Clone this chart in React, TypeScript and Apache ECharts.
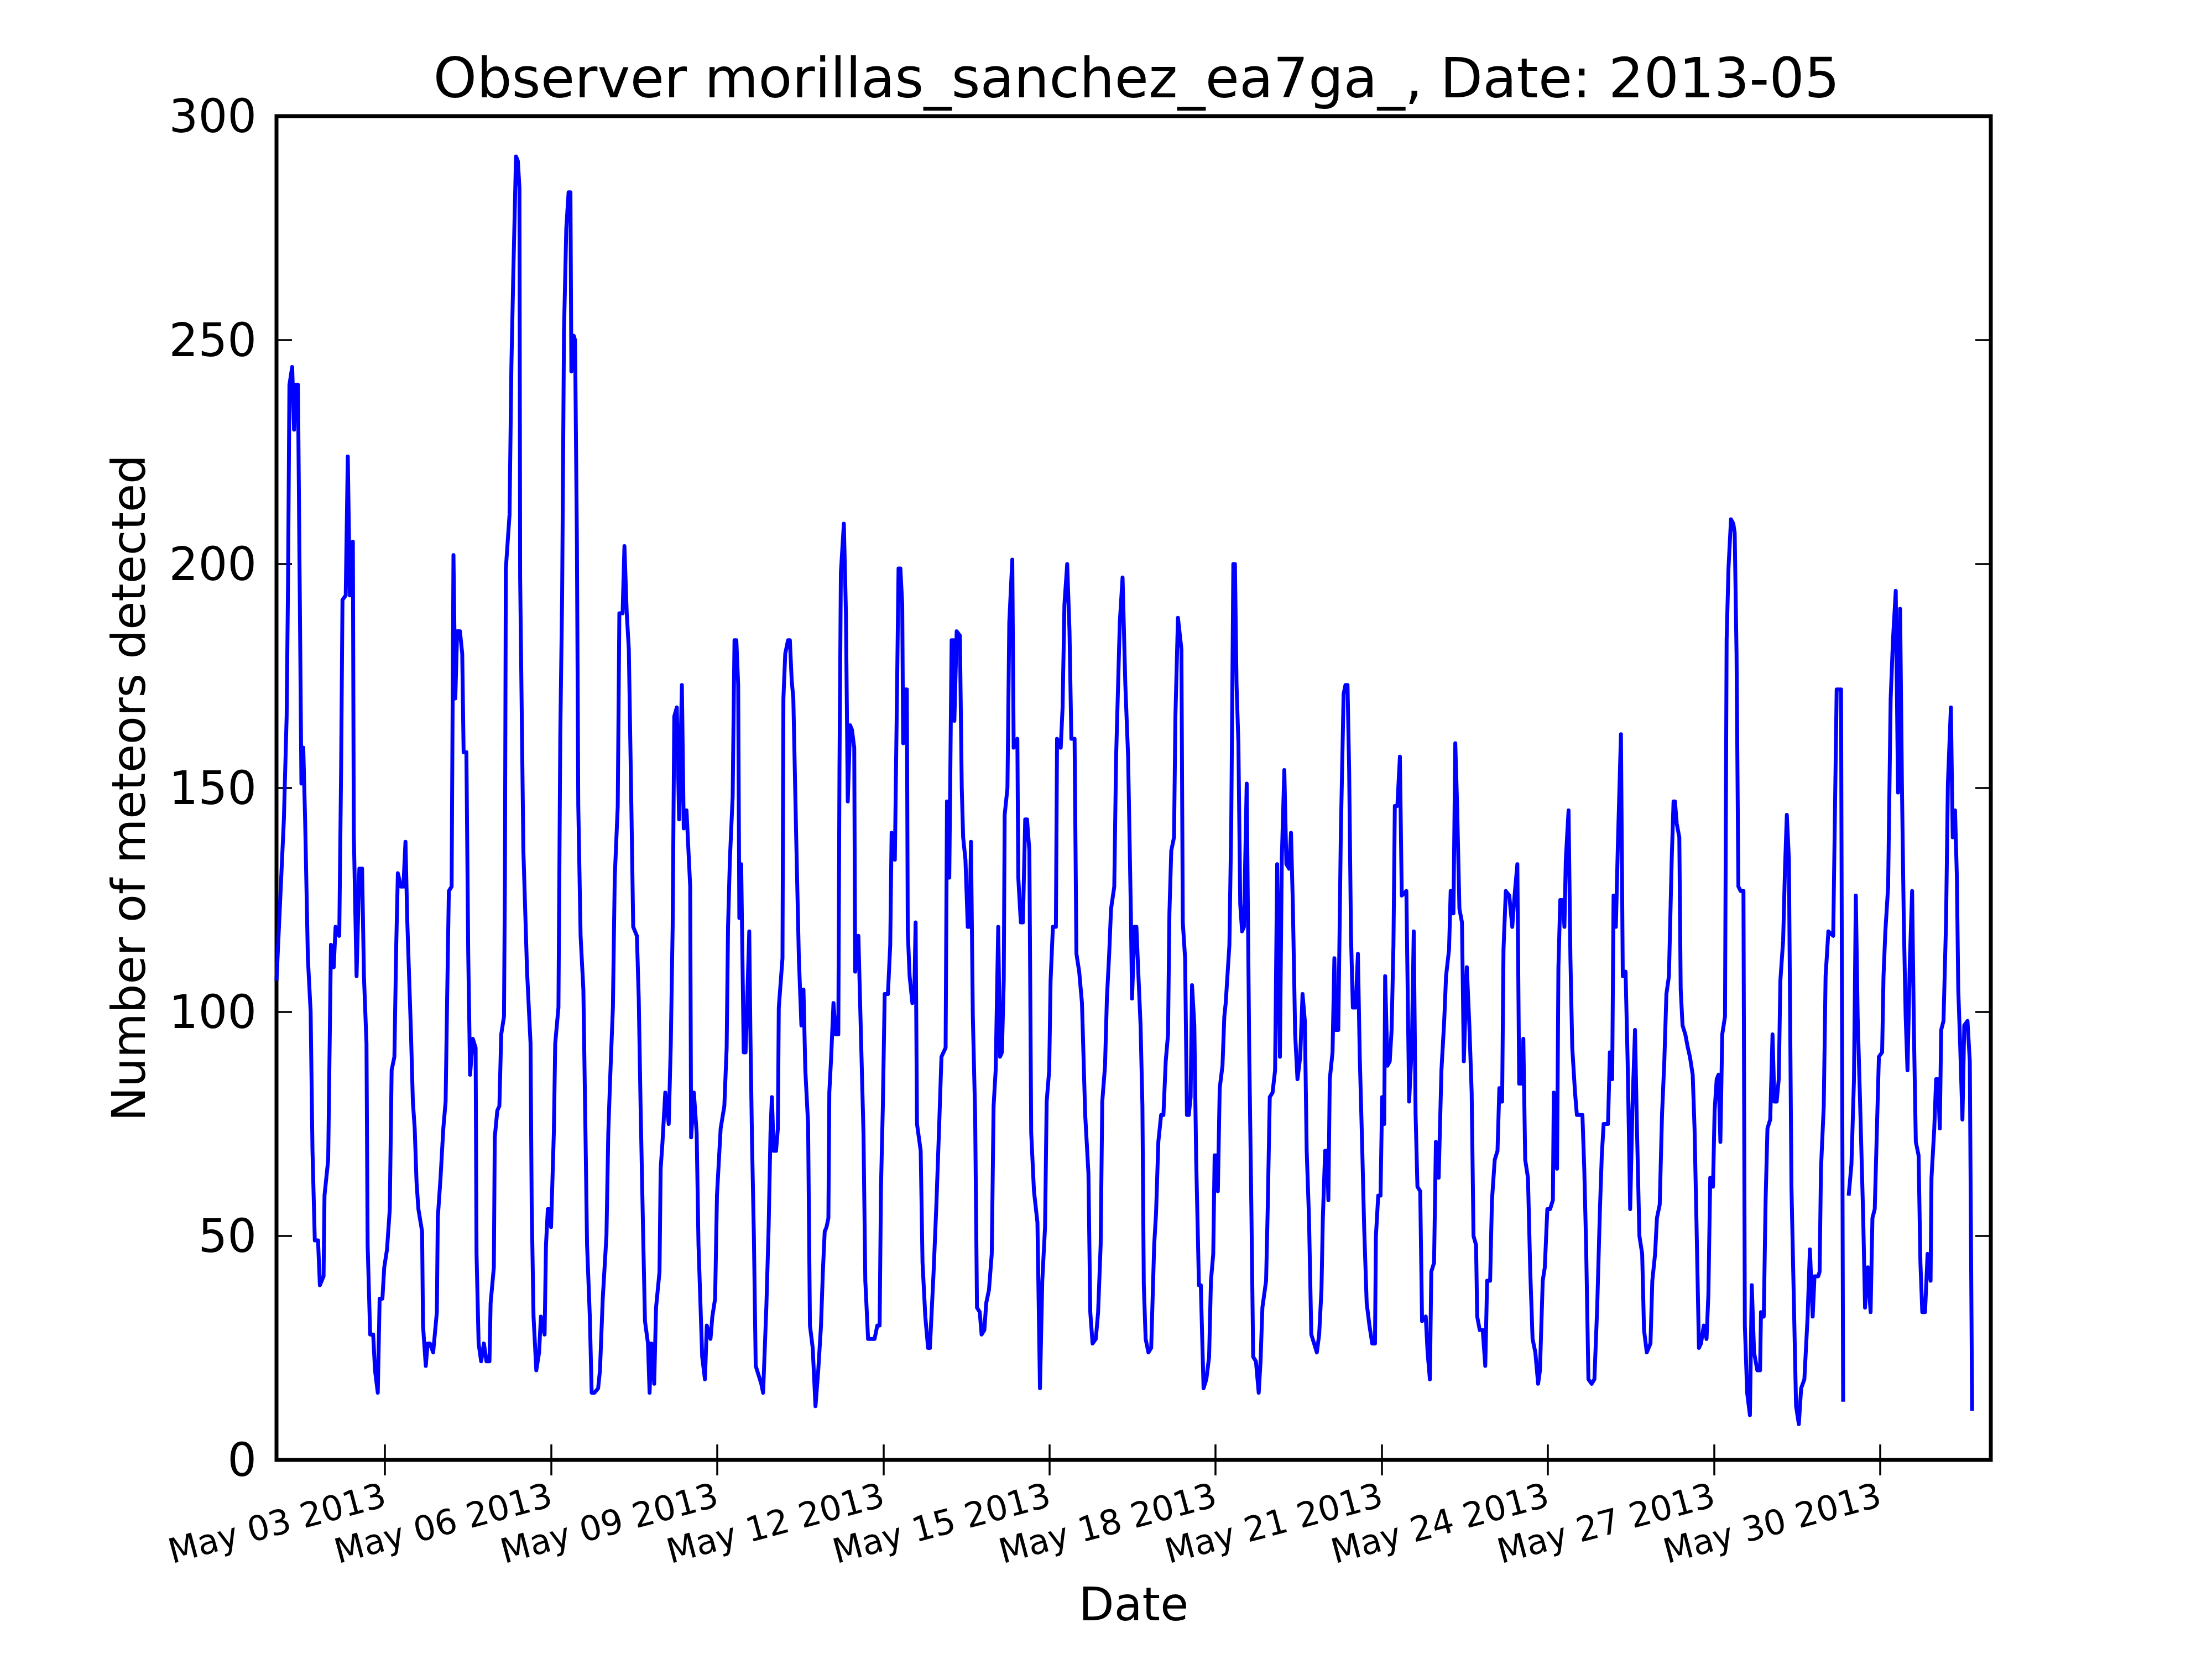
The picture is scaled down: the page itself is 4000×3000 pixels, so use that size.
import React, { useEffect, useRef } from "react";
import * as echarts from "echarts";

// Hourly meteor counts, as [hours since 2013-05-01 00:00, count].
// null = missing hour (the line breaks there).
const may01to07: [number, number | null][] = [
  [1, 107], [4.2, 143], [5.4, 166], [6, 196], [6.6, 240], [7.8, 244], [8.6, 230], [9.4, 240], [10.3, 240],
  [11.8, 151], [12.6, 159], [13.4, 143], [14.6, 112], [15.8, 100], [16.6, 69], [17.6, 49], [19, 49], [19.8, 39],
  [21.4, 41], [21.8, 59], [23.4, 67], [24.2, 99], [24.6, 115], [25.8, 110], [26.6, 119], [28.2, 117], [29, 154],
  [29.6, 192], [31, 193], [31.9, 224], [32.8, 193], [34.1, 205], [34.5, 140], [35.7, 108], [36.9, 132], [38.1, 132],
  [38.9, 108], [40, 93], [40.5, 48], [41.6, 28], [42.9, 28], [43.7, 20], [44.9, 15], [45.7, 36], [46.9, 36],
  [47.7, 43], [48.9, 47], [50.1, 56], [50.9, 87], [52.1, 90], [52.9, 115], [53.6, 131], [54.9, 128], [56, 128],
  [56.9, 138], [57.7, 120], [59.3, 95], [60.1, 80], [60.9, 74], [61.7, 62], [62.5, 56], [64.1, 51], [64.5, 30],
  [65.7, 21], [66.5, 26], [67.5, 26], [68.9, 24], [70.5, 33], [70.9, 54], [72.1, 63], [73.3, 74], [74.3, 80],
  [74.9, 101], [75.7, 127], [76.9, 128], [77.7, 202], [78.5, 170], [79.3, 185], [80.5, 185], [81.5, 180], [82.1, 158],
  [83.3, 158], [84.1, 113], [84.9, 86], [86.1, 94], [87.3, 92], [87.7, 46], [88.6, 26], [89.7, 22], [90.9, 26],
  [92, 22], [93.3, 22], [93.8, 35], [95.2, 43], [95.6, 72], [96.7, 78], [97.6, 79], [98.4, 95], [99.6, 99],
  [100, 130], [100.4, 199], [102, 211], [102.8, 244], [103.6, 264], [104.8, 291], [105.6, 290], [106.3, 284], [106.6, 197],
  [108, 136], [109.6, 109], [111.1, 93], [111.6, 57], [112.4, 32], [113.6, 20], [114.8, 24], [115.6, 32], [117.2, 28],
  [117.8, 48], [118.6, 56], [119.2, 56], [120, 52], [121.2, 73], [121.8, 93], [123.2, 101], [124, 162], [124.8, 193],
  [125.6, 252], [126.6, 275], [127.6, 283], [128.4, 283], [128.8, 243], [129.8, 251], [130.4, 250], [131.2, 205], [131.8, 146],
  [132.8, 117], [134, 105], [134.8, 77], [135.6, 48], [136.8, 32], [137.6, 15], [138.8, 15], [140.4, 16], [141.2, 20],
  [142.4, 36], [144, 50], [144.8, 73], [145.6, 85], [146.8, 101], [147.6, 130], [148.9, 146], [149.6, 189], [151, 189],
  [151.8, 204], [152.8, 189], [153.7, 181], [154.8, 146], [155.6, 119], [157.2, 117], [158, 103], [158.8, 79], [160, 48],
  [160.7, 31], [162, 26], [162.7, 15], [163.5, 26], [164.7, 17], [165.5, 34], [167, 42], [167.5, 65],
];

const may08to14: [number, number | null][] = [
  [168.3, 71], [169.5, 82], [171, 75], [171.9, 93], [172.7, 119], [173.4, 166], [174.5, 168], [175.5, 143], [176.7, 173],
  [177.5, 141], [178.7, 145], [180.3, 128], [180.7, 72], [181.9, 82], [183.1, 73], [183.9, 48], [185.5, 23], [186.7, 18],
  [187.5, 30], [189.1, 27], [189.9, 32], [191.1, 36], [191.9, 59], [193.5, 74], [195.1, 79], [196.1, 92], [196.7, 119],
  [197.5, 134], [198.7, 148], [199.5, 183], [200.3, 183], [201.1, 173], [201.6, 121], [202.4, 133], [203.5, 91], [204.3, 91],
  [204.7, 97], [205.9, 118], [206.4, 95], [207.1, 71], [207.9, 50], [208.7, 21], [209.9, 19], [211.1, 17], [211.9, 15],
  [213.3, 34], [214.3, 52], [215.1, 73], [215.7, 81], [216.5, 69], [217.5, 69], [218.3, 74], [218.7, 101], [220.3, 112],
  [220.7, 170], [221.5, 180], [222.7, 183], [223.5, 183], [224.3, 174], [225, 170], [226.2, 140], [227.4, 112], [228.5, 97],
  [229.4, 105], [230.2, 87], [231.4, 75], [232.2, 30], [233.4, 25], [234.6, 12], [235.8, 20], [237, 30], [237.8, 42],
  [238.6, 51], [239.4, 52], [240.2, 54], [240.6, 82], [241.4, 90], [242.4, 102], [243.4, 95], [244.5, 95], [245, 154],
  [245.6, 198], [246.9, 209], [247.8, 189], [248.6, 147], [249.6, 164], [250.4, 163], [251.4, 159], [251.8, 109], [253.2, 117],
  [254.2, 97], [255.4, 73], [256.2, 40], [257.4, 27], [258.6, 27], [260.2, 27], [261.4, 30], [262.4, 30], [263, 61],
  [263.8, 79], [264.6, 104], [266, 104], [267, 115], [267.6, 140], [269, 134], [269.8, 166], [270.6, 199], [271.4, 199],
  [272.2, 191], [272.6, 160], [273.5, 172], [274.2, 172], [274.6, 118], [275.4, 108], [276.6, 102], [277.4, 103], [278, 120],
  [278.6, 75], [280.2, 69], [281, 44], [282.2, 32], [283.4, 25], [284.2, 25], [285.8, 42], [287, 57], [288.1, 73],
  [289.2, 90], [291, 92], [291.6, 147], [292.6, 130], [293.6, 183], [294.4, 183], [294.8, 165], [295.8, 185], [297.2, 184],
  [298, 150], [298.6, 139], [299.6, 134], [300.6, 119], [301.4, 119], [302, 138], [302.8, 99], [303.8, 77], [304.6, 34],
  [305.8, 33], [306.6, 28], [307.8, 29], [308.6, 35], [309.8, 38], [311, 46], [311.8, 79], [312.7, 87], [313.8, 119],
  [314.6, 90], [315.4, 91], [316.2, 107], [316.6, 144], [317.8, 150], [318.6, 187], [319.9, 201], [320.5, 159], [322.1, 161],
  [322.5, 130], [323.6, 120], [324.5, 120], [325.5, 143], [326.3, 143], [327.3, 136], [328.1, 73], [329.3, 60], [330.8, 53],
  [331.9, 16], [332.9, 40], [334.1, 52], [334.8, 80], [335.9, 87],
];

const may15to21: [number, number | null][] = [
  [336.5, 107], [337.5, 119], [338.8, 119], [339.3, 161], [340.9, 159], [341.7, 168], [342.5, 191], [343.7, 200], [344.7, 185],
  [345.5, 161], [346.9, 161], [347.7, 113], [348.9, 109], [350.1, 102], [351.5, 77], [352.9, 64], [353.7, 33], [354.7, 26],
  [356.1, 27], [357.1, 33], [358.2, 48], [358.9, 80], [360.1, 88], [360.9, 103], [361.9, 113], [362.7, 123], [364.1, 128],
  [364.9, 157], [365.7, 172], [366.5, 187], [367.7, 197], [368.9, 173], [370.1, 157], [371.3, 122], [371.8, 103], [372.9, 119],
  [373.7, 119], [374.5, 109], [375.5, 97], [376.3, 79], [376.9, 39], [377.7, 27], [378.9, 24], [380.1, 25], [381.4, 48],
  [382.2, 55], [383.2, 71], [384.4, 77], [385.4, 77], [386.4, 89], [387.4, 95], [388, 122], [388.8, 136], [390, 139],
  [390.6, 166], [391.7, 188], [393.2, 181], [393.8, 120], [394.8, 112], [395.6, 77], [396.4, 77], [397.2, 81], [397.8, 106],
  [398.8, 97], [399.6, 67], [400.8, 39], [401.6, 39], [402.8, 16], [404, 18], [405.2, 23], [406, 40], [407, 46],
  [407.6, 68], [408.4, 68], [409, 60], [409.8, 83], [411, 88], [411.8, 99], [412.4, 102], [414, 115], [414.8, 142],
  [415.7, 200], [416.4, 200], [417.1, 173], [417.9, 160], [418.7, 124], [419.5, 118], [420.3, 119], [421.5, 151], [422.6, 91],
  [423.5, 57], [424.3, 23], [425.5, 22], [426.7, 15], [427.5, 22], [428.3, 34], [429.9, 40], [430.6, 56], [431.5, 81],
  [432.7, 82], [433.8, 87], [434.7, 133], [435.9, 90], [436.7, 134], [437.8, 154], [438.7, 133], [439.9, 132], [440.7, 140],
  [441.5, 124], [442.5, 95], [443.5, 85], [444.7, 90], [445.7, 104], [446.7, 98], [447.5, 69], [448.5, 54], [449.5, 28],
  [450.7, 26], [451.9, 24], [452.9, 28], [453.9, 38], [454.5, 54], [455.5, 69], [456.3, 69], [456.9, 58], [457.5, 85],
  [458.7, 91], [459.5, 112], [460.1, 96], [461.2, 96], [462.3, 140], [463.5, 171], [464.3, 173], [465.2, 173], [465.9, 154],
  [466.7, 117], [467.5, 101], [468.7, 101], [469.7, 113], [470.5, 90], [471.5, 71], [472.4, 52], [473.5, 35], [474.7, 30],
  [475.9, 26], [477.1, 26], [477.5, 50], [478.5, 59], [479.5, 59], [480.2, 81], [481.1, 75], [481.5, 108], [482.5, 88],
  [483.5, 89], [484.3, 96], [485.1, 115], [485.7, 146], [486.8, 146], [487.9, 157], [488.7, 126], [490.7, 127], [491.9, 80],
  [493.1, 93], [493.9, 118], [494.7, 77], [495.5, 61], [496.7, 60], [497.5, 31], [499.1, 32], [499.9, 24], [500.9, 18],
  [501.5, 42], [502.7, 44], [503.5, 71],
];

const may22to28: [number, number | null][] = [
  [504.7, 63], [505.9, 87], [507.1, 98], [507.9, 108], [509.2, 114], [509.9, 127], [511.1, 122], [511.9, 160], [512.7, 146],
  [513.7, 123], [514.8, 120], [515.6, 89], [516.9, 110], [518, 97], [519, 82], [519.8, 50], [520.9, 48], [521.4, 32],
  [522.5, 29], [523.8, 29], [524.9, 21], [525.7, 40], [527, 40], [527.8, 58], [529, 67], [530.2, 69], [531, 83],
  [532.2, 80], [532.8, 114], [533.8, 127], [535.3, 126], [536.6, 119], [537.6, 126], [538.8, 133], [539.6, 84], [540.6, 84],
  [541.4, 94], [542.2, 67], [543.4, 63], [544.4, 42], [545.4, 27], [546.6, 24], [547.8, 17], [548.6, 20], [549.8, 40],
  [550.7, 43], [551.8, 56], [553, 56], [554.2, 58], [554.6, 82], [555.4, 66], [556, 65], [556.6, 110], [557.4, 125],
  [558.6, 125], [559.2, 119], [559.8, 134], [561, 145], [561.8, 112], [562.6, 92], [563.8, 82], [564.6, 77], [567, 77],
  [567.8, 65], [568.6, 48], [569.6, 18], [571, 17], [572.2, 18], [573.4, 34], [574.6, 56], [575.4, 68], [576.2, 75],
  [578.1, 75], [578.9, 91], [579.9, 85], [580.5, 126], [581.5, 119], [582.3, 136], [583.7, 162], [584.5, 108], [585.7, 109],
  [586.6, 89], [587.7, 56], [588.7, 79], [589.8, 96], [590.6, 75], [591.7, 50], [592.9, 46], [593.7, 29], [594.9, 24],
  [596.5, 26], [597.3, 40], [598.5, 46], [599.3, 54], [600.5, 57], [601.5, 77], [602.5, 89], [603.4, 104], [604.5, 108],
  [605.7, 134], [606.5, 147], [607.1, 147], [607.9, 142], [609, 139], [609.6, 105], [610.4, 97], [611.6, 95], [612.7, 92],
  [613.6, 90], [614.8, 86], [615.6, 74], [616.4, 54], [617.5, 25], [618.4, 26], [619.6, 30], [620.8, 27], [621.6, 37],
  [622.4, 63], [623.6, 61], [624.3, 78], [625.2, 85], [626, 86], [626.8, 71], [627.6, 95], [628.8, 99], [629.5, 183],
  [630.3, 199], [631.4, 210], [632.4, 209], [633, 207], [633.8, 180], [634.6, 128], [635.6, 127], [636.8, 127], [637.4, 30],
  [638.4, 15], [639.6, 10], [640.4, 39], [641.4, 24], [642.8, 20], [644, 20], [644.4, 33], [645.6, 32], [646.4, 58],
  [647.2, 74], [648.4, 76], [649.4, 95], [650.2, 80], [651.2, 80], [652.1, 85], [652.8, 107], [654, 116], [654.8, 132],
  [655.6, 144], [656.5, 134], [657.6, 61], [659.6, 12], [660.8, 8], [661.8, 16], [663.2, 18], [664.6, 32], [665.6, 47],
  [666.8, 32], [667.6, 41], [669.2, 41], [669.8, 42], [670.4, 65], [671.6, 79],
];

const may29to31: [number, number | null][] = [
  [672.4, 108], [673.6, 118], [675.7, 117], [677.2, 172], [679.1, 172], [680, 13], [681, null], [682.4, 59], [683.6, 66],
  [684.7, 85], [685.5, 126], [686.3, 99], [687.5, 77], [688.7, 54], [689.5, 34], [690.7, 43], [691.9, 33], [692.7, 54],
  [693.7, 56], [694.7, 75], [695.5, 90], [696.9, 91], [697.5, 108], [698.3, 118], [699.5, 128], [700.6, 170], [701.6, 183],
  [702.8, 194], [703.8, 149], [704.7, 190], [705.5, 150], [706.3, 120], [707.1, 99], [707.9, 87], [708.9, 111], [709.9, 127],
  [710.7, 95], [711.5, 71], [712.7, 68], [713.5, 44], [714.3, 33], [715.5, 33], [716.6, 46], [717.9, 40], [718.3, 63],
  [719.5, 74], [720.3, 85], [721.1, 85], [721.9, 74], [722.5, 96], [723.5, 98], [724.6, 120], [725.4, 151], [726.7, 168],
  [727.5, 139], [728.5, 145], [729.3, 130], [729.9, 105], [730.7, 93], [731.7, 76], [732.5, 97], [733.9, 98], [734.9, 89],
  [735.9, 11],
];

// x axis: May 1 01:00 .. June 1 00:00, a date tick every 3 days
const xStartHour = 1;
const xEndHour = 744;
const tickDays = [3, 6, 9, 12, 15, 18, 21, 24, 27, 30];

const FONT = "DejaVu Sans";

export default function App() {
  const chartRef = useRef<HTMLDivElement>(null);

  useEffect(() => {
    document.body.style.margin = "0";
    if (!chartRef.current) return;

    const chart = echarts.init(chartRef.current, undefined, { renderer: "svg" });

    const readings = [...may01to07, ...may08to14, ...may15to21, ...may22to28, ...may29to31];
    const lineData = readings.map(([h, v]) => [h, v === null ? "-" : v]);

    const tickHours = tickDays.map((d) => (d - 1) * 24);
    const dayLabel = (h: number) => {
      const d = Math.round(h / 24) + 1;
      return `May ${String(d).padStart(2, "0")} 2013`;
    };

    const tickStyle = { show: true, inside: true, length: 28, lineStyle: { color: "#000", width: 3.5 } };

    const option: echarts.EChartsOption = {
      animation: false,
      backgroundColor: "#fff",
      title: {
        text: "Observer morillas_sanchez_ea7ga_, Date: 2013-05",
        left: 2050,
        top: 86,
        textAlign: "center",
        textStyle: { fontFamily: FONT, fontSize: 100, fontWeight: "normal", color: "#000", lineHeight: 100 },
      },
      grid: {
        left: 500,
        right: 400,
        top: 210,
        bottom: 360,
        show: true,
        borderColor: "#000",
        borderWidth: 7,
        backgroundColor: "transparent",
      },
      xAxis: [
        {
          type: "value",
          position: "bottom",
          min: xStartHour,
          max: xEndHour,
          axisLine: { show: false },
          splitLine: { show: false },
          axisTick: { ...tickStyle, customValues: tickHours },
          axisLabel: {
            customValues: tickHours,
            rotate: 15,
            margin: 62,
            fontFamily: FONT,
            fontSize: 62,
            color: "#000",
            formatter: (v: number) => dayLabel(v),
          },
          name: "Date",
          nameLocation: "middle",
          nameGap: 220,
          nameTextStyle: { fontFamily: FONT, fontSize: 83, color: "#000" },
        },
        {
          type: "value",
          position: "top",
          min: xStartHour,
          max: xEndHour,
          axisLine: { show: false },
          splitLine: { show: false },
          axisTick: { ...tickStyle, customValues: tickHours },
          axisLabel: { show: false },
        },
      ],
      yAxis: [
        {
          type: "value",
          position: "left",
          min: 0,
          max: 300,
          interval: 50,
          axisLine: { show: false },
          splitLine: { show: false },
          axisTick: tickStyle,
          axisLabel: { margin: 36, fontFamily: FONT, fontSize: 83, color: "#000" },
          name: "Number of meteors detected",
          nameLocation: "middle",
          nameRotate: 90,
          nameGap: 225,
          nameTextStyle: { fontFamily: FONT, fontSize: 83, color: "#000" },
        },
        {
          type: "value",
          position: "right",
          min: 0,
          max: 300,
          interval: 50,
          axisLine: { show: false },
          splitLine: { show: false },
          axisTick: tickStyle,
          axisLabel: { show: false },
        },
      ],
      series: [
        {
          name: "Meteors",
          type: "line",
          data: lineData,
          showSymbol: false,
          symbol: "none",
          connectNulls: false,
          lineStyle: { color: "#0000ff", width: 7, join: "round" },
        },
      ],
    };

    chart.setOption(option);

    return () => {
      chart.dispose();
    };
  }, []);

  return <div ref={chartRef} style={{ width: 4000, height: 3000 }} />;
}
